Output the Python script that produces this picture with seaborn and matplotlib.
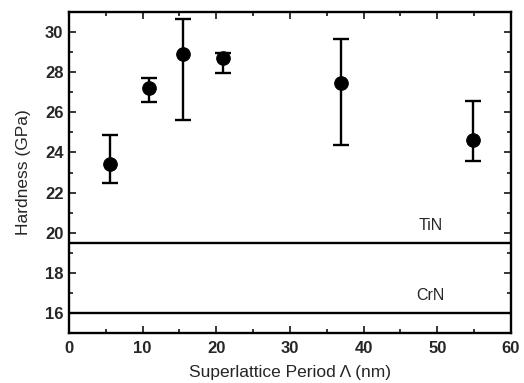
import matplotlib
matplotlib.use("Agg")
import matplotlib.pyplot as plt
import seaborn as sns
import pandas as pd
import numpy as np
from matplotlib.ticker import MultipleLocator

period = [5.5, 10.8, 15.5, 20.9, 36.9, 54.9]
hardness = [23.4, 27.2, 28.9, 28.7, 27.45, 24.6]
err_upper = [24.85, 27.73, 30.66, 28.97, 29.67, 26.57]
err_lower = [22.47, 26.52, 25.6, 27.96, 24.37, 23.55]
ref_names = ["TiN", "CrN"]
ref_values = [19.5, 16.0]

sns.set_style("ticks")
plt.rcParams['font.family'] = ['Liberation Sans', 'DejaVu Sans']

fig = plt.figure(figsize=(5.24, 3.83), dpi=100)
ax = fig.add_axes([0.1317, 0.1305, 0.975 - 0.1317, 0.9687 - 0.1305])

df = pd.DataFrame({"period": period, "hardness": hardness})
yerr = np.array([np.array(hardness) - np.array(err_lower),
                 np.array(err_upper) - np.array(hardness)])
ax.errorbar(period, hardness, yerr=yerr, fmt="none", ecolor="black",
            elinewidth=1.7, capsize=6, capthick=1.7, zorder=2)
sns.scatterplot(data=df, x="period", y="hardness", ax=ax, color="black",
                s=95, edgecolor="black", zorder=3, legend=False)

for name, val in zip(ref_names, ref_values):
    ax.axhline(val, color="black", lw=1.7, zorder=1)
    ax.text(49.1, val + 0.5, name, fontsize=11.5, ha="center", va="bottom")

ax.set_xlim(0, 60)
ax.set_ylim(15, 31)
ax.xaxis.set_major_locator(MultipleLocator(10))
ax.xaxis.set_minor_locator(MultipleLocator(5))
ax.yaxis.set_minor_locator(MultipleLocator(1))
ax.set_yticks([16, 18, 20, 22, 24, 26, 28, 30])
ax.tick_params(which="both", direction="in", top=True, right=True,
               width=1.3, labelsize=12)
ax.tick_params(axis="x", which="major", pad=6)
ax.tick_params(axis="y", which="major", pad=4)
ax.tick_params(which="major", length=5)
ax.tick_params(which="minor", length=3)
for lab in ax.get_xticklabels() + ax.get_yticklabels():
    lab.set_fontweight("bold")
for s in ax.spines.values():
    s.set_linewidth(1.7)
    s.set_color("black")

ax.set_xlabel("Superlattice Period \u039b (nm)", fontsize=12.5, labelpad=6)
ax.set_ylabel("Hardness (GPa)", fontsize=12.5, labelpad=10)

fig.savefig("out.png", dpi=100)
